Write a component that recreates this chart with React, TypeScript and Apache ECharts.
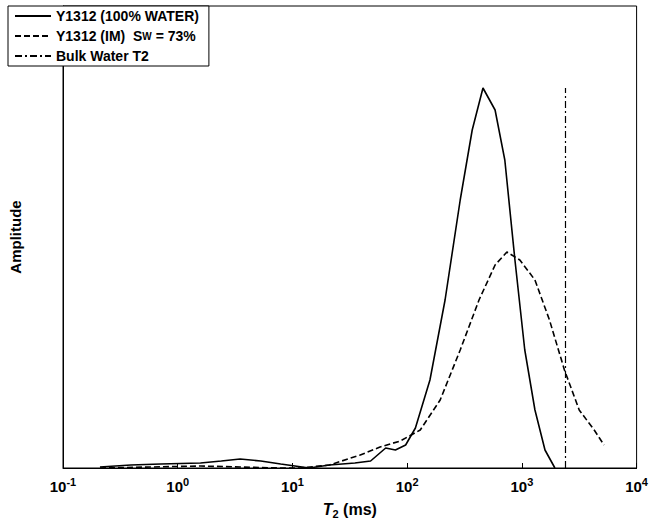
import React, { useEffect, useRef } from "react";
import * as echarts from "echarts";

const solidT2 = [0.21, 0.39, 0.71, 1.58, 2.4, 3.5, 5.3, 7.9, 14, 21, 35, 48, 65, 79, 97, 118, 158, 214, 290, 369, 458, 584, 710, 870, 1060, 1300, 1590, 1940];
const solidAmp = [1, 3, 4, 5, 7, 9, 7, 4, 0, 3, 5, 7, 20, 18, 23, 40, 88, 168, 268, 338, 380, 358, 308, 208, 118, 58, 18, 0];
const dashT2 = [0.21, 0.58, 1.58, 3.5, 7.9, 11.7, 21, 39, 58, 87, 130, 194, 290, 423, 584, 740, 960, 1300, 1740, 2350, 3160, 4270, 5200];
const dashAmp = [0, 1, 2, 1, 0, 0, 3, 13, 21, 27, 38, 68, 118, 168, 203, 216, 208, 188, 148, 98, 58, 38, 23];
const bulkT2 = 2400;
const bulkTop = 380;
const names = ["Y1312 (100% WATER)", "Y1312 (IM)  Sw = 73%", "Bulk Water T2"];

const font = "Arial, 'Liberation Sans', sans-serif";

export default function App() {
  const ref = useRef<HTMLDivElement>(null);
  useEffect(() => {
    if (!ref.current) return;
    const chart = echarts.init(ref.current, null, { renderer: "svg" });
    const zip = (xs: number[], ys: number[]) => xs.map((x, i) => [x, ys[i]]);
    chart.setOption({
      animation: false,
      grid: { left: 62, right: 14, top: 6, bottom: 59, show: true, borderColor: "#000", borderWidth: 1 },
      legend: {
        left: 8, top: 6, orient: "vertical", itemGap: 6, itemWidth: 36, itemHeight: 12,
        borderColor: "#000", borderWidth: 1, padding: [3, 10, 3, 6], backgroundColor: "#fff",
        itemStyle: { opacity: 0 },
        textStyle: {
          fontFamily: font, fontWeight: "bold", fontSize: 14, color: "#000",
          rich: { a: { fontFamily: font, fontWeight: "bold", fontSize: 14 }, b: { fontFamily: font, fontWeight: "bold", fontSize: 10 } },
        },
        formatter: (n: string) => (n === names[1] ? "{a|Y1312 (IM)  S}{b|W}{a| = 73%}" : n),
        data: names,
      },
      xAxis: {
        type: "log", min: 0.1, max: 10000, logBase: 10,
        name: "{i|T}{s|2}{n| (ms)}", nameLocation: "middle", nameGap: 32,
        nameTextStyle: {
          rich: {
            i: { fontFamily: font, fontWeight: "bold", fontStyle: "italic", fontSize: 16, color: "#000" },
            s: { fontFamily: font, fontWeight: "bold", fontSize: 11, color: "#000", verticalAlign: "bottom", padding: [8, 0, 0, 0] },
            n: { fontFamily: font, fontWeight: "bold", fontSize: 16, color: "#000" },
          },
        },
        axisLine: { lineStyle: { color: "#000" } },
        axisTick: { inside: true, length: 5, lineStyle: { color: "#000" } },
        minorTick: { show: false },
        splitLine: { show: false },
        axisLabel: {
          margin: 8,
          formatter: (v: number) => `{b|10}{e|${Math.round(Math.log10(v))}}`,
          rich: {
            b: { fontFamily: font, fontWeight: "bold", fontSize: 15, color: "#000" },
            e: { fontFamily: font, fontWeight: "bold", fontSize: 11, color: "#000", verticalAlign: "top", padding: [0, 0, 10, 0] },
          },
        },
      },
      yAxis: {
        type: "value", min: 0, max: 462,
        name: "Amplitude", nameLocation: "middle", nameGap: 40,
        nameTextStyle: { fontFamily: font, fontWeight: "bold", fontSize: 15, color: "#000" },
        axisLine: { show: true, lineStyle: { color: "#000" } },
        axisTick: { show: false }, axisLabel: { show: false }, splitLine: { show: false },
      },
      series: [
        { name: names[0], type: "line", symbol: "none", data: zip(solidT2, solidAmp), lineStyle: { color: "#000", width: 1.6 }, itemStyle: { color: "#000" } },
        { name: names[1], type: "line", symbol: "none", data: zip(dashT2, dashAmp), lineStyle: { color: "#000", width: 1.6, type: [6, 3] }, itemStyle: { color: "#000" } },
        { name: names[2], type: "line", symbol: "none", data: [[bulkT2, 0], [bulkT2, bulkTop]], lineStyle: { color: "#000", width: 1.2, type: [7, 3, 2, 3] }, itemStyle: { color: "#000" } },
      ],
    });
    return () => chart.dispose();
  }, []);
  return <div ref={ref} style={{ position: "absolute", left: 0, top: 0, width: 651, height: 527 }} />;
}
